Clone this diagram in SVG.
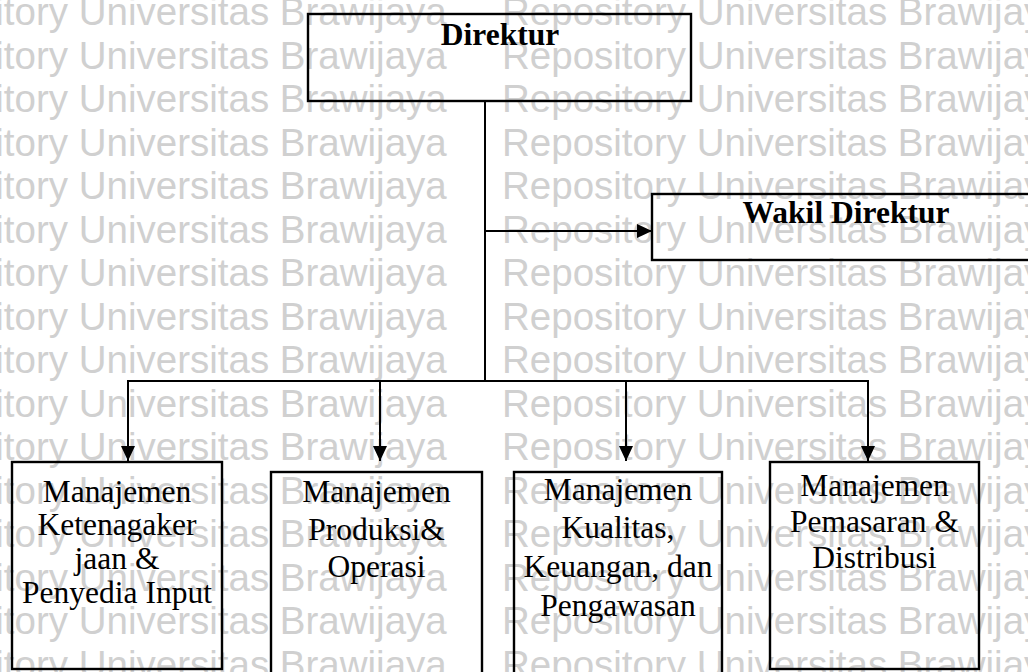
<svg xmlns="http://www.w3.org/2000/svg" width="1028" height="672" viewBox="0 0 1028 672">
<style>
.wm{font-family:"Liberation Sans",Arial,sans-serif;font-size:38.5px;fill:#d0d0d0}
.box{fill:none;stroke:#000;stroke-width:2.4}
.ln{fill:none;stroke:#000;stroke-width:2}
.t{font-family:"Liberation Serif","Times New Roman",serif;font-size:31.5px;fill:#000;text-anchor:middle}
.b{font-weight:bold}
</style>
<defs>
<marker id="ah" markerUnits="userSpaceOnUse" markerWidth="16" markerHeight="14" refX="15" refY="7" orient="auto">
<path d="M0,0 L15,7 L0,14 Z" fill="#000"/>
</marker>
</defs>
<rect width="1028" height="672" fill="#fff"/>
<g id="watermark" class="wm">
<text x="-116" y="25">Repository Universitas Brawijaya</text><text x="502" y="25">Repository Universitas Brawijaya</text>
<text x="-116" y="68.5">Repository Universitas Brawijaya</text><text x="502" y="68.5">Repository Universitas Brawijaya</text>
<text x="-116" y="112">Repository Universitas Brawijaya</text><text x="502" y="112">Repository Universitas Brawijaya</text>
<text x="-116" y="155.5">Repository Universitas Brawijaya</text><text x="502" y="155.5">Repository Universitas Brawijaya</text>
<text x="-116" y="199">Repository Universitas Brawijaya</text><text x="502" y="199">Repository Universitas Brawijaya</text>
<text x="-116" y="242.5">Repository Universitas Brawijaya</text><text x="502" y="242.5">Repository Universitas Brawijaya</text>
<text x="-116" y="286">Repository Universitas Brawijaya</text><text x="502" y="286">Repository Universitas Brawijaya</text>
<text x="-116" y="329.5">Repository Universitas Brawijaya</text><text x="502" y="329.5">Repository Universitas Brawijaya</text>
<text x="-116" y="373">Repository Universitas Brawijaya</text><text x="502" y="373">Repository Universitas Brawijaya</text>
<text x="-116" y="416.5">Repository Universitas Brawijaya</text><text x="502" y="416.5">Repository Universitas Brawijaya</text>
<text x="-116" y="460">Repository Universitas Brawijaya</text><text x="502" y="460">Repository Universitas Brawijaya</text>
<text x="-116" y="503.5">Repository Universitas Brawijaya</text><text x="502" y="503.5">Repository Universitas Brawijaya</text>
<text x="-116" y="547">Repository Universitas Brawijaya</text><text x="502" y="547">Repository Universitas Brawijaya</text>
<text x="-116" y="590.5">Repository Universitas Brawijaya</text><text x="502" y="590.5">Repository Universitas Brawijaya</text>
<text x="-116" y="634">Repository Universitas Brawijaya</text><text x="502" y="634">Repository Universitas Brawijaya</text>
<text x="-116" y="677.5">Repository Universitas Brawijaya</text><text x="502" y="677.5">Repository Universitas Brawijaya</text>
</g>
<g id="connectors">
<path class="ln" d="M485,101 V381"/>
<path class="ln" d="M485,231 H652" marker-end="url(#ah)"/>
<path class="ln" d="M127,381 H869"/>
<path class="ln" d="M128,381 V461" marker-end="url(#ah)"/>
<path class="ln" d="M380,381 V461" marker-end="url(#ah)"/>
<path class="ln" d="M626,381 V461" marker-end="url(#ah)"/>
<path class="ln" d="M868,381 V461" marker-end="url(#ah)"/>
</g>
<g id="direktur">
<rect class="box" x="308" y="14" width="383" height="87"/>
<text class="t b" x="500" y="45" font-size="31">Direktur</text>
</g>
<g id="wakil-direktur">
<rect class="box" x="652" y="194" width="400" height="66"/>
<text class="t b" x="846" y="223">Wakil Direktur</text>
</g>
<g id="manajemen-ketenagakerjaan">
<rect class="box" x="12" y="462" width="210" height="207"/>
<text class="t" x="117" y="502">Manajemen</text>
<text class="t" x="117" y="535">Ketenagaker</text>
<text class="t" x="117" y="569">jaan &amp;</text>
<text class="t" x="117" y="603">Penyedia Input</text>
</g>
<g id="manajemen-produksi">
<rect class="box" x="271" y="472" width="211" height="220"/>
<text class="t" x="376.5" y="502">Manajemen</text>
<text class="t" x="376.5" y="540">Produksi&amp;</text>
<text class="t" x="376.5" y="577">Operasi</text>
</g>
<g id="manajemen-kualitas">
<rect class="box" x="514" y="472" width="208" height="220"/>
<text class="t" x="618" y="500">Manajemen</text>
<text class="t" x="618" y="538">Kualitas,</text>
<text class="t" x="618" y="577">Keuangan, dan</text>
<text class="t" x="618" y="616">Pengawasan</text>
</g>
<g id="manajemen-pemasaran">
<rect class="box" x="770" y="462" width="209" height="207"/>
<text class="t" x="874.5" y="496">Manajemen</text>
<text class="t" x="874.5" y="532">Pemasaran &amp;</text>
<text class="t" x="874.5" y="568">Distribusi</text>
</g>
</svg>
